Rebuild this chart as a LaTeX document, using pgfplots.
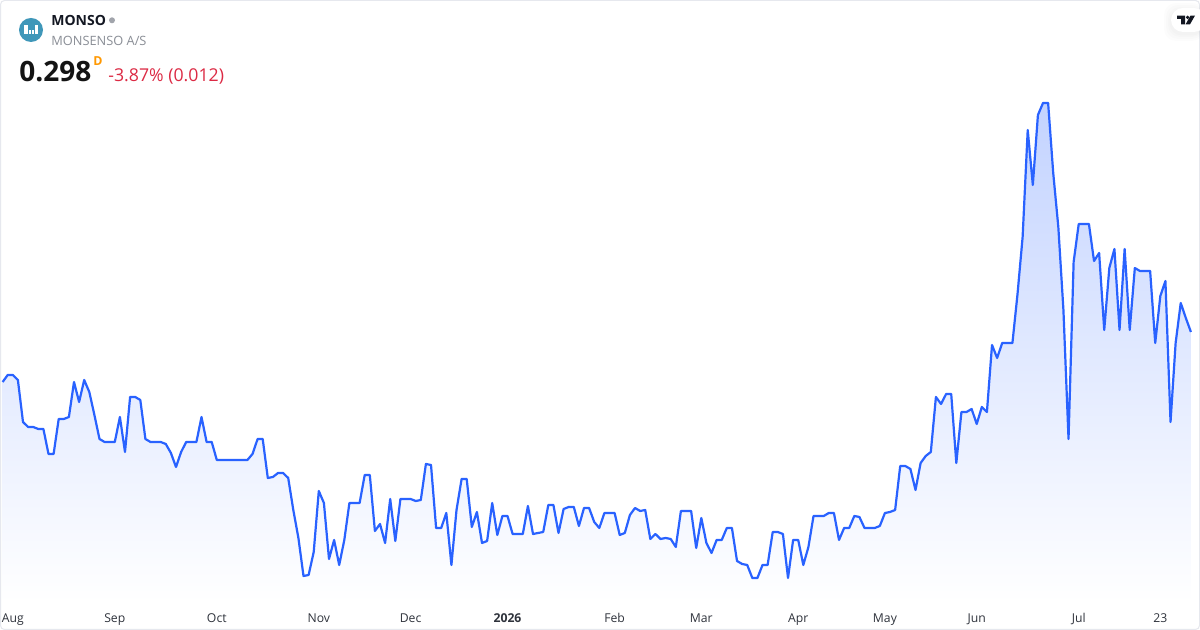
\documentclass[border=0pt]{standalone}
\usepackage{pgfplots}
\usepackage{pgfplotstable}
\usepackage{fontspec}
\pgfplotsset{compat=1.18}
\setmainfont{Open Sans}
\definecolor{tvblue}{HTML}{2962FF}
\definecolor{tvtop}{HTML}{C3D3FF}
\definecolor{tvred}{HTML}{DC2A44}
\definecolor{tvgrey}{HTML}{8A8E96}
\definecolor{tvdark}{HTML}{131722}
\definecolor{tvborder}{HTML}{E6E8EE}
\definecolor{tvlogo}{HTML}{3F97B9}
\definecolor{tvorange}{HTML}{FF9800}
\pgfplotstableread[row sep=\\]{
i v\\
0 0.248\\ 1 0.255\\ 2 0.255\\ 3 0.250\\ 4 0.208\\ 5 0.203\\ 6 0.203\\ 7 0.201\\ 8 0.201\\ 9 0.176\\
10 0.176\\ 11 0.211\\ 12 0.211\\ 13 0.213\\ 14 0.248\\ 15 0.228\\ 16 0.250\\ 17 0.238\\ 18 0.215\\ 19 0.191\\
20 0.188\\ 21 0.188\\ 22 0.188\\ 23 0.213\\ 24 0.178\\ 25 0.233\\ 26 0.233\\ 27 0.230\\ 28 0.191\\ 29 0.188\\
30 0.188\\ 31 0.188\\ 32 0.186\\ 33 0.177\\ 34 0.163\\ 35 0.178\\ 36 0.188\\ 37 0.188\\ 38 0.188\\ 39 0.213\\
40 0.188\\ 41 0.188\\ 42 0.170\\ 43 0.170\\ 44 0.170\\ 45 0.170\\ 46 0.170\\ 47 0.170\\ 48 0.170\\ 49 0.176\\
50 0.191\\ 51 0.191\\ 52 0.152\\ 53 0.153\\ 54 0.157\\ 55 0.157\\ 56 0.152\\ 57 0.120\\ 58 0.092\\ 59 0.054\\
60 0.055\\ 61 0.078\\ 62 0.139\\ 63 0.127\\ 64 0.071\\ 65 0.090\\ 66 0.065\\ 67 0.090\\ 68 0.127\\ 69 0.127\\
70 0.127\\ 71 0.155\\ 72 0.155\\ 73 0.099\\ 74 0.106\\ 75 0.087\\ 76 0.131\\ 77 0.089\\ 78 0.131\\ 79 0.131\\
80 0.131\\ 81 0.129\\ 82 0.130\\ 83 0.166\\ 84 0.165\\ 85 0.102\\ 86 0.102\\ 87 0.117\\ 88 0.065\\ 89 0.120\\
90 0.151\\ 91 0.151\\ 92 0.103\\ 93 0.118\\ 94 0.087\\ 95 0.089\\ 96 0.127\\ 97 0.095\\ 98 0.114\\ 99 0.114\\
100 0.096\\ 101 0.096\\ 102 0.096\\ 103 0.124\\ 104 0.096\\ 105 0.097\\ 106 0.098\\ 107 0.125\\ 108 0.125\\ 109 0.097\\
110 0.121\\ 111 0.123\\ 112 0.123\\ 113 0.104\\ 114 0.122\\ 115 0.122\\ 116 0.108\\ 117 0.102\\ 118 0.117\\ 119 0.117\\
120 0.117\\ 121 0.095\\ 122 0.097\\ 123 0.115\\ 124 0.122\\ 125 0.119\\ 126 0.120\\ 127 0.091\\ 128 0.096\\ 129 0.091\\
130 0.092\\ 131 0.091\\ 132 0.083\\ 133 0.119\\ 134 0.119\\ 135 0.119\\ 136 0.082\\ 137 0.112\\ 138 0.087\\ 139 0.077\\
140 0.090\\ 141 0.090\\ 142 0.102\\ 143 0.102\\ 144 0.069\\ 145 0.066\\ 146 0.065\\ 147 0.052\\ 148 0.052\\ 149 0.065\\
150 0.065\\ 151 0.098\\ 152 0.098\\ 153 0.096\\ 154 0.052\\ 155 0.090\\ 156 0.090\\ 157 0.065\\ 158 0.083\\ 159 0.114\\
160 0.114\\ 161 0.114\\ 162 0.117\\ 163 0.117\\ 164 0.090\\ 165 0.102\\ 166 0.102\\ 167 0.114\\ 168 0.113\\ 169 0.102\\
170 0.102\\ 171 0.102\\ 172 0.104\\ 173 0.117\\ 174 0.118\\ 175 0.120\\ 176 0.164\\ 177 0.164\\ 178 0.161\\ 179 0.140\\
180 0.167\\ 181 0.174\\ 182 0.178\\ 183 0.233\\ 184 0.226\\ 185 0.236\\ 186 0.236\\ 187 0.167\\ 188 0.218\\ 189 0.218\\
190 0.221\\ 191 0.206\\ 192 0.223\\ 193 0.218\\ 194 0.285\\ 195 0.272\\ 196 0.287\\ 197 0.287\\ 198 0.287\\ 199 0.336\\
200 0.393\\ 201 0.500\\ 202 0.445\\ 203 0.515\\ 204 0.527\\ 205 0.527\\ 206 0.457\\ 207 0.403\\ 208 0.320\\ 209 0.191\\
210 0.368\\ 211 0.406\\ 212 0.406\\ 213 0.406\\ 214 0.369\\ 215 0.377\\ 216 0.300\\ 217 0.362\\ 218 0.381\\ 219 0.300\\
220 0.381\\ 221 0.300\\ 222 0.362\\ 223 0.359\\ 224 0.359\\ 225 0.359\\ 226 0.287\\ 227 0.334\\ 228 0.349\\ 229 0.208\\
230 0.287\\ 231 0.327\\ 232 0.312\\ 233 0.298\\
}\pricetable
\begin{document}
\begin{tikzpicture}
\path[use as bounding box] (0,0) rectangle (600pt,315pt);
\fill[white] (0,0) rectangle (600pt,315pt);
\begin{axis}[
  at={(0pt,13.5pt)}, anchor=south west,
  scale only axis, width=600pt, height=301.5pt,
  xmin=-0.51, xmax=234.78, ymin=0.027, ymax=0.630,
  axis line style={draw=none},
  major tick length=0pt,
  ytick=\empty,
  xtick={2,22,42,62,80,99,120,137,156,173,191,211,227},
  xticklabels={Aug,Sep,Oct,Nov,Dec,\textbf{2026},Feb,Mar,Apr,May,Jun,Jul,23},
  xticklabel style={font=\fontsize{6.1pt}{7pt}\selectfont, text=tvdark!88!white, anchor=base, yshift=-9.6pt, inner sep=0pt},
]
\addplot[draw=none, top color=tvtop, bottom color=white, forget plot] table[x=i,y=v] {\pricetable} \closedcycle;
\addplot[tvblue, line width=1.1pt, line join=round, no markers] table[x=i,y=v] {\pricetable};
\end{axis}
\begin{scope}[x=0.5pt,y=-0.5pt,yshift=315pt]
  \draw[tvborder, line width=0.5pt, rounded corners=2pt] (0.5,0.5) rectangle (1199.5,629.5);
  % logo
  \fill[tvlogo] (31,30) circle (12);
  \fill[white] (24,25) rectangle (27.5,34);
  \fill[white] (28.5,30.5) rectangle (30.5,34);
  \fill[white] (31.5,30.5) rectangle (33.5,34);
  \fill[white] (34.5,25.5) rectangle (38.3,34);
  % header text
  \node[anchor=base west, inner sep=0pt, text=tvdark, font=\bfseries\fontsize{7pt}{8pt}\selectfont] at (51,26) {MONSO};
  \fill[tvgrey!80] (112,20.3) circle (3);
  \node[anchor=base west, inner sep=0pt, text=tvgrey, font=\fontsize{6.4pt}{8pt}\selectfont] at (51,45.5) {MONSENSO A/S};
  \node[anchor=base west, inner sep=0pt, text=black!92, font=\bfseries\fontsize{14pt}{16pt}\selectfont] at (19,81.5) {0.298};
  \node[anchor=base west, inner sep=0pt, text=tvorange, font=\bfseries\fontsize{6.2pt}{7pt}\selectfont] at (93,65.7) {D};
  \node[anchor=base west, inner sep=0pt, text=tvred, font=\fontsize{8.85pt}{10pt}\selectfont] at (108,81.5) {-3.87\% (0.012)};
  % TV badge
  \foreach \o in {7,5,3,1.5}{
    \fill[black, opacity=0.012, rounded corners=6pt] (1171-\o,8-\o+2) rectangle (1204,32+\o+2);
  }
  \fill[white, rounded corners=6pt] (1171,8) rectangle (1206,32);
  \fill[tvdark] (1177,15.6) -- (1185,15.6) -- (1185,24.3) -- (1181,24.3) -- (1181,19) -- (1177,19) -- cycle;
  \fill[tvdark] (1187.6,17.4) circle (1.8);
  \fill[tvdark] (1190.5,15.6) -- (1195,15.6) -- (1190,24.3) -- (1185.6,24.3) -- cycle;
\end{scope}
\end{tikzpicture}
\end{document}
